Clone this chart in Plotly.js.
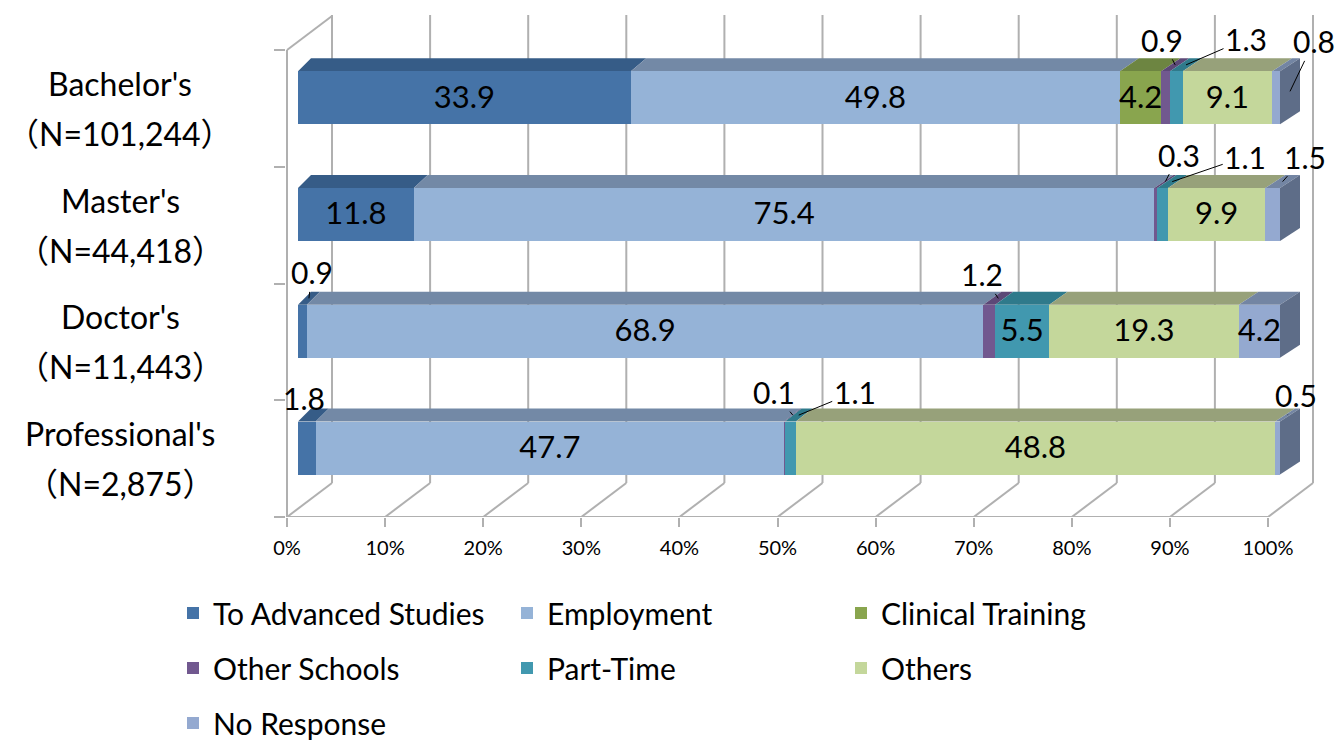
<!DOCTYPE html>
<html><head><meta charset="utf-8">
<script src="https://cdn.plot.ly/plotly-3.0.1.min.js"></script>
<style>html,body{margin:0;padding:0;background:#fff}</style>
</head><body><div id="chart" style="width:1343px;height:740px"></div>
<script>
// ---------- data ----------
const categories = ["Bachelor's", "Master's", "Doctor's", "Professional's"];
const sampleSizes = ["101,244", "44,418", "11,443", "2,875"];
const seriesNames = ["To Advanced Studies", "Employment", "Clinical Training", "Other Schools", "Part-Time", "Others", "No Response"];
const toAdvanced   = [33.9, 11.8, 0.9, 1.8];
const employment   = [49.8, 75.4, 68.9, 47.7];
const clinical     = [4.2, 0, 0, 0];
const otherSchools = [0.9, 0.3, 1.2, 0.1];
const partTime     = [1.3, 1.1, 5.5, 1.1];
const others       = [9.1, 9.9, 19.3, 48.8];
const noResponse   = [0.8, 1.5, 4.2, 0.5];
const xTickValues  = [0, 10, 20, 30, 40, 50, 60, 70, 80, 90, 100];
const xTickLabels  = ["0%", "10%", "20%", "30%", "40%", "50%", "60%", "70%", "80%", "90%", "100%"];

const seriesValues = [toAdvanced, employment, clinical, otherSchools, partTime, others, noResponse];

// ---------- styles ----------
const FONT = "Lato, 'Noto Sans CJK JP', sans-serif";
const frontColors = ['#4573A7', '#95B3D7', '#89A54E', '#71588F', '#4198AF', '#C4D79B', '#94A9D0'];
const topColors   = ['#365C87', '#7389A6', '#6D8541', '#5C4877', '#2F7A8B', '#97A17A', '#7385A3'];
const sideColors  = ['#2E4E73', '#64788F', '#5C7137', '#4E3D66', '#286877', '#838C69', '#5E6D88'];
const gridColor = '#B0B0B0';

// ---------- geometry ----------
const W = 1343, H = 740;
const M = {l: 286, r: 23, t: 15, b: 223, autoexpand: false};
const plotW = W - M.l - M.r;
const plotH = H - M.t - M.b;
const pxX = 9.82, barZeroPx = 298;       // bar front face scale
const pxXf = 9.81, floorZeroPx = 287;    // floor front scale
const pxY = 116.75;
const x2range = [(M.l - barZeroPx) / pxX, (W - M.r - barZeroPx) / pxX];
const xrange = [(M.l - floorZeroPx) / pxXf, (W - M.r - floorZeroPx) / pxXf];
const yrange = [0, plotH / pxY];
const barOffset = 0.59, barWidth = 0.454;
const depthX = v => (13 + 7 * v / 100) / pxX;
const depthY = 13 / pxY;
const wallDX = 45 / pxXf, wallDY = 34 / pxY;
const nCat = categories.length;
const yPos = categories.map((c, i) => (nCat - 1 - i) + barOffset);

// ---------- walls ----------
const shapes = [];
const line = (x0, y0, x1, y1) => ({type: 'line', xref: 'x', yref: 'y', x0, y0, x1, y1,
  line: {color: gridColor, width: 2}, layer: 'below'});
xTickValues.forEach(t => {
  shapes.push(line(t + wallDX, wallDY, t + wallDX, yrange[1]));
  shapes.push(line(t, 0, t + wallDX, wallDY));
});
shapes.push(line(0, 0, 100, 0));
shapes.push(line(0, 0, 0, nCat));
shapes.push(line(0, nCat, wallDX, nCat + wallDY));

// ---------- traces + 3D faces ----------
const traces = [];
const cum = categories.map(() => 0);
const starts = seriesValues.map(() => []);
seriesValues.forEach((vals, s) => {
  vals.forEach((v, i) => { starts[s][i] = cum[i]; cum[i] += v; });
});
const legendOf = s => s < 3 ? 'legend' : (s < 6 ? 'legend2' : 'legend3');

seriesValues.forEach((vals, s) => {
  traces.push({
    type: 'bar', orientation: 'h', name: seriesNames[s],
    x: vals, y: yPos, width: barWidth, xaxis: 'x2', yaxis: 'y',
    marker: {color: frontColors[s], line: {width: 0}},
    hoverinfo: 'skip', legend: legendOf(s)
  });
  vals.forEach((v, i) => {
    if (v <= 0) return;
    const a = starts[s][i], b = a + v;
    const yt = yPos[i] + barWidth / 2, yb = yPos[i] - barWidth / 2;
    shapes.push({type: 'path', xref: 'x2', yref: 'y', layer: 'below',
      path: `M${a},${yt} L${b},${yt} L${b + depthX(b)},${yt + depthY} L${a + depthX(a)},${yt + depthY} Z`,
      fillcolor: topColors[s], line: {width: 0}});
    if (Math.abs(b - cum[i]) < 1e-6) {
      shapes.push({type: 'path', xref: 'x2', yref: 'y', layer: 'below',
        path: `M${b},${yb} L${b},${yt} L${b + depthX(b)},${yt + depthY} L${b + depthX(b)},${yb + depthY} Z`,
        fillcolor: sideColors[s], line: {width: 0}});
    }
  });
});

// inside labels
const lx = [], ly = [], lt = [];
seriesValues.forEach((vals, s) => vals.forEach((v, i) => {
  if (v >= 4) { lx.push(starts[s][i] + v / 2); ly.push(yPos[i] - 2 / pxY); lt.push(v.toFixed(1)); }
}));
traces.push({type: 'scatter', mode: 'text', x: lx, y: ly, text: lt, xaxis: 'x2', yaxis: 'y',
  textposition: 'middle center', textfont: {family: FONT, size: 31, color: '#000'},
  showlegend: false, hoverinfo: 'skip', cliponaxis: false});

// ---------- annotations ----------
const annotations = [];
categories.forEach((c, i) => {
  const yc = (nCat - 1 - i) + 0.5;
  annotations.push({xref: 'paper', yref: 'y', x: (120 - M.l) / plotW, y: yc, yshift: 25,
    text: c, showarrow: false, xanchor: 'center', yanchor: 'middle', font: {family: FONT, size: 32, color: '#000'}});
  annotations.push({xref: 'paper', yref: 'y', x: (120 - M.l) / plotW, y: yc, yshift: -25,
    text: '（N=' + sampleSizes[i] + '）', showarrow: false, xanchor: 'center', yanchor: 'middle', font: {family: FONT, size: 32, color: '#000'}});
});

// callouts for thin segments: [category index, series index, ax, ay, face]
const callouts = [
  [0, 3, -13, -25, 'top'], [0, 4, 60, -26, 'top'], [0, 6, 24, -50, 'side'],
  [1, 3, 14, -27, 'top'], [1, 4, 73, -25, 'top'], [1, 6, 22, -25, 'top'],
  [2, 0, 3, -26, 'top'], [2, 3, -16, -24, 'top'],
  [3, 0, -9, -17, 'top'], [3, 3, -19, -23, 'top'], [3, 4, 56, -23, 'top'], [3, 6, 8, -20, 'top']
];
callouts.forEach(([i, s, ax, ay, face]) => {
  const v = seriesValues[s][i];
  const a = starts[s][i];
  let x, y;
  if (face === 'side') {
    const b = a + v;
    x = b + depthX(b) / 2; y = yPos[i] + depthY / 2;
  } else {
    const m = a + v / 2;
    x = m + depthX(m) / 2; y = yPos[i] + barWidth / 2 + depthY / 2;
  }
  annotations.push({xref: 'x2', yref: 'y', x, y, ax, ay, text: v.toFixed(1),
    showarrow: true, arrowhead: 0, arrowwidth: 1, arrowcolor: '#000', standoff: 0,
    font: {family: FONT, size: 30, color: '#000'}});
});

// ---------- legends ----------
const legendRow = (yPx) => ({
  orientation: 'h', x: (173 - M.l) / plotW, xanchor: 'left',
  y: -(yPx - (H - M.b)) / plotH, yanchor: 'middle',
  font: {family: FONT, size: 30, color: '#000'},
  entrywidth: 289, entrywidthmode: 'pixels', bgcolor: 'rgba(0,0,0,0)', traceorder: 'normal'
});

const layout = {
  width: W, height: H, margin: M,
  paper_bgcolor: '#fff', plot_bgcolor: '#fff',
  barmode: 'stack', bargap: 0, hovermode: false,
  font: {family: FONT, color: '#000'},
  xaxis: {range: xrange, tickvals: xTickValues, ticktext: xTickLabels, ticks: 'outside', ticklen: 9,
    tickcolor: gridColor, tickwidth: 2, showgrid: false, zeroline: false, showline: false,
    tickfont: {family: FONT, size: 20, color: '#000'}, ticklabelstandoff: 4, fixedrange: true},
  xaxis2: {range: x2range, overlaying: 'x', anchor: 'y', visible: false, fixedrange: true},
  yaxis: {range: yrange, tickvals: [0, 1, 2, 3, 4], ticks: 'outside', ticklen: 11, tickcolor: gridColor,
    tickwidth: 2, showticklabels: false, showgrid: false, zeroline: false, showline: false, fixedrange: true},
  legend: legendRow(613), legend2: legendRow(668), legend3: legendRow(723),
  shapes, annotations
};

Plotly.newPlot('chart', traces, layout, {displayModeBar: false, staticPlot: true});
</script></body></html>
